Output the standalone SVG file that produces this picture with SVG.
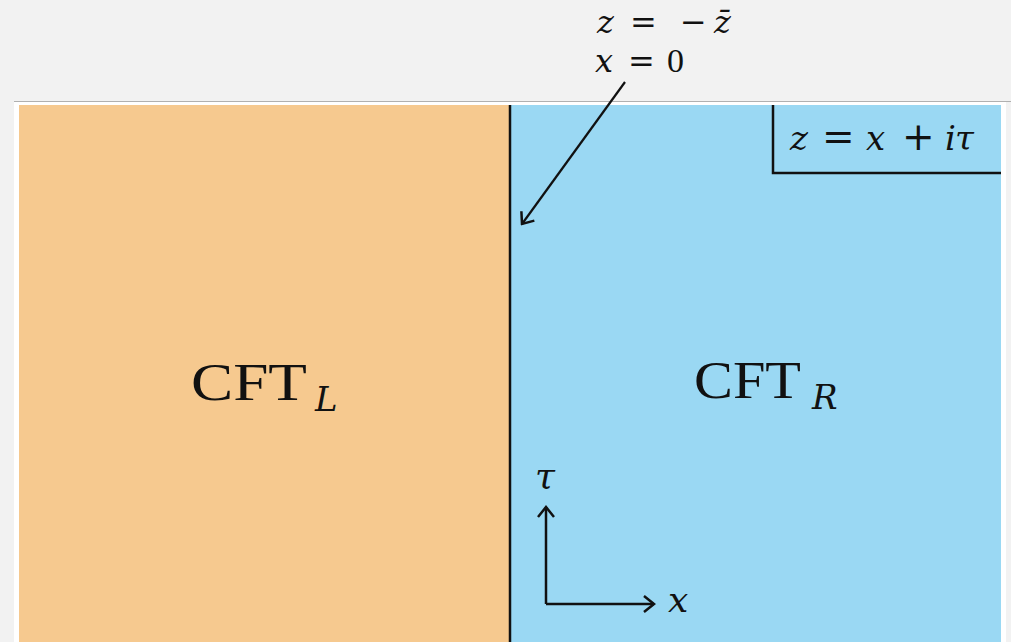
<svg xmlns="http://www.w3.org/2000/svg" width="1011" height="642" viewBox="0 0 1011 642">
<style>
.m{font-family:"Liberation Serif","DejaVu Serif",serif;fill:#111;}
.i{font-family:"DejaVu Serif","Liberation Serif",serif;font-style:italic;}
.op{font-family:"DejaVu Serif","Liberation Serif",serif;font-style:normal;}
.ln{stroke:#111;fill:none;stroke-width:2.5;}
</style>
<defs>
<marker id="ah2" viewBox="0 0 20 20" refX="18" refY="10" markerWidth="20" markerHeight="20" markerUnits="userSpaceOnUse" orient="auto">
<path d="M8,2 L18,10 L8,18" fill="none" stroke="#111" stroke-width="2.5"/>
</marker>
</defs>
<rect x="0" y="0" width="1011" height="642" fill="#f2f2f2"/>
<rect x="14" y="102" width="992" height="540" fill="#ffffff"/>
<line x1="14" y1="101.5" x2="1011" y2="101.5" stroke="#b0b0b0" stroke-width="1"/>
<g id="left">
<rect x="19" y="105" width="491" height="537" fill="#f6c98f"/>
<text class="m" x="191" y="400" font-size="52" textLength="116" lengthAdjust="spacingAndGlyphs">CFT</text>
<text class="m i" x="315" y="411" font-size="34">L</text>
</g>
<g id="right">
<rect x="510" y="105" width="491" height="537" fill="#9ad8f3"/>
<text class="m" x="694" y="398" font-size="52" textLength="107" lengthAdjust="spacingAndGlyphs">CFT</text>
<text class="m i" x="812" y="409" font-size="34">R</text>
</g>
<g id="interface">
<line x1="510" y1="105" x2="510" y2="642" stroke="#111" stroke-width="2.5"/>
</g>
<g id="coordlabel">
<path class="ln" d="M773,105 L773,173 L1001,173"/>
<text class="m" y="150" font-size="34"><tspan class="i" x="790">z</tspan><tspan class="op" x="822" font-size="39">=</tspan><tspan class="i" x="866">x</tspan><tspan class="op" x="902" font-size="39">+</tspan><tspan class="i" x="945">i</tspan><tspan class="i" x="955">τ</tspan></text>
</g>
<g id="bclabel">
<text class="m" y="33" font-size="32"><tspan class="i" x="597">z</tspan><tspan class="op" x="630">=</tspan><tspan class="op" x="680">−</tspan><tspan class="i" x="714">z̄</tspan></text>
<text class="m" y="72" font-size="32"><tspan class="i" x="595">x</tspan><tspan class="op" x="628">=</tspan><tspan x="667" font-size="34">0</tspan></text>
</g>
<g id="axes">
<text class="m i" x="535" y="488" font-size="36">τ</text>
<text class="m i" x="668" y="612" font-size="36">x</text>
</g>
<g id="connectors">
<line x1="625" y1="82" x2="522" y2="224" stroke="#111" stroke-width="2.2" marker-end="url(#ah2)"/>
<line x1="546" y1="604" x2="546" y2="507" stroke="#111" stroke-width="2.5" marker-end="url(#ah2)"/>
<line x1="546" y1="604" x2="654" y2="604" stroke="#111" stroke-width="2.5" marker-end="url(#ah2)"/>
</g>
</svg>
